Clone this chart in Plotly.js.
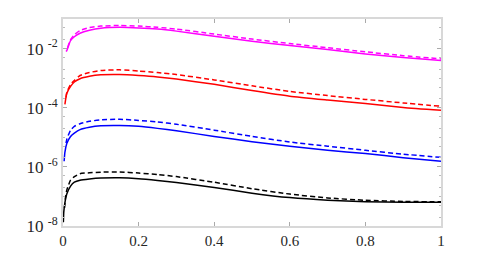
<!DOCTYPE html>
<html><head><meta charset="utf-8">
<script src="https://cdn.plot.ly/plotly-3.0.1.min.js"></script>
<style>html,body{margin:0;padding:0;background:#fff;}</style>
</head><body>
<div id="chart" style="width:488px;height:254px;"></div>
<script>
// magenta
const xMagentaSolid = [0.008,0.01,0.02,0.03,0.045,0.07,0.1,0.15,0.2,0.25,0.3,0.4,0.5,0.6,0.7,0.8,0.9,1.0];
const yMagentaSolid = [7.94e-3,8.51e-3,1.86e-2,2.51e-2,3.31e-2,4.17e-2,4.90e-2,5.25e-2,5.01e-2,4.57e-2,3.89e-2,2.63e-2,1.78e-2,1.26e-2,9.33e-3,6.61e-3,5.01e-3,3.98e-3];
const xMagentaDash = [0.012,0.02,0.03,0.045,0.07,0.1,0.15,0.2,0.25,0.3,0.4,0.5,0.6,0.7,0.8,0.9,1.0];
const yMagentaDash = [1.07e-2,2.0e-2,2.95e-2,4.07e-2,5.13e-2,5.75e-2,6.03e-2,5.75e-2,5.25e-2,4.57e-2,3.09e-2,2.09e-2,1.48e-2,1.07e-2,7.76e-3,5.75e-3,4.47e-3];
// red
const xRedSolid = [0.005,0.01,0.02,0.03,0.045,0.07,0.1,0.15,0.2,0.25,0.3,0.4,0.5,0.6,0.7,0.8,0.9,1.0];
const yRedSolid = [1.29e-4,3.02e-4,5.25e-4,7.41e-4,9.55e-4,1.15e-3,1.29e-3,1.32e-3,1.23e-3,1.10e-3,9.33e-4,6.17e-4,3.80e-4,2.45e-4,1.82e-4,1.38e-4,1.02e-4,8.13e-5];
const xRedDash = [0.008,0.01,0.02,0.03,0.045,0.07,0.1,0.15,0.2,0.25,0.3,0.4,0.5,0.6,0.7,0.8,0.9,1.0];
const yRedDash = [2.24e-4,3.31e-4,6.17e-4,8.32e-4,1.23e-3,1.55e-3,1.82e-3,1.91e-3,1.74e-3,1.55e-3,1.32e-3,8.71e-4,5.50e-4,3.55e-4,2.57e-4,1.91e-4,1.45e-4,1.12e-4];
// blue
const xBlueSolid = [0.003,0.005,0.01,0.02,0.03,0.045,0.07,0.1,0.15,0.2,0.25,0.3,0.4,0.5,0.6,0.7,0.8,0.9,1.0];
const yBlueSolid = [1.55e-6,3.09e-6,6.17e-6,1.07e-5,1.38e-5,1.82e-5,2.19e-5,2.45e-5,2.51e-5,2.34e-5,2.0e-5,1.66e-5,1.07e-5,7.08e-6,5.01e-6,3.63e-6,2.82e-6,2.04e-6,1.55e-6];
const xBlueDash = [0.008,0.01,0.02,0.03,0.045,0.07,0.1,0.15,0.2,0.25,0.3,0.4,0.5,0.6,0.7,0.8,0.9,1.0];
const yBlueDash = [6.31e-6,8.51e-6,1.74e-5,2.34e-5,2.88e-5,3.47e-5,3.89e-5,4.07e-5,3.72e-5,3.31e-5,2.75e-5,1.74e-5,1.07e-5,6.92e-6,5.01e-6,3.63e-6,2.69e-6,2.09e-6];
// black
const xBlackSolid = [0.001,0.002,0.005,0.01,0.02,0.03,0.045,0.07,0.1,0.15,0.2,0.25,0.3,0.4,0.5,0.6,0.7,0.8,0.9,1.0];
const yBlackSolid = [1.35e-8,2.95e-8,6.03e-8,1.20e-7,2.24e-7,3.02e-7,3.55e-7,3.89e-7,4.17e-7,4.27e-7,3.98e-7,3.47e-7,2.95e-7,2.0e-7,1.29e-7,9.12e-8,7.41e-8,6.61e-8,6.31e-8,6.31e-8];
const xBlackDash = [0.004,0.006,0.01,0.02,0.03,0.045,0.07,0.1,0.15,0.2,0.25,0.3,0.4,0.5,0.6,0.7,0.8,0.9,1.0];
const yBlackDash = [4.07e-8,8.13e-8,1.62e-7,3.55e-7,4.68e-7,5.89e-7,6.31e-7,6.61e-7,6.76e-7,6.17e-7,5.50e-7,4.68e-7,3.02e-7,1.82e-7,1.20e-7,8.91e-8,7.41e-8,6.76e-8,6.61e-8];

const xTickVals = [0,0.2,0.4,0.6,0.8,1];
const xTickText = ['0','0.2','0.4','0.6','0.8','1'];
const yTickVals = [1e-8,1e-6,1e-4,1e-2];
const yTickText = ['10 <sup>-8</sup>','10 <sup>-6</sup>','10 <sup>-4</sup>','10 <sup>-2</sup>'];

function tr(x, y, color, dashed) {
  return {x: x, y: y, type: 'scatter', mode: 'lines',
    line: {color: color, width: 1.5, shape: 'spline', smoothing: 0.5, dash: dashed ? '5px,3px' : 'solid'},
    hoverinfo: 'skip', showlegend: false};
}
const data = [
  tr(xMagentaDash, yMagentaDash, '#ff00ff', true),
  tr(xMagentaSolid, yMagentaSolid, '#ff00ff', false),
  tr(xRedDash, yRedDash, '#ff0000', true),
  tr(xRedSolid, yRedSolid, '#ff0000', false),
  tr(xBlueDash, yBlueDash, '#0000ff', true),
  tr(xBlueSolid, yBlueSolid, '#0000ff', false),
  tr(xBlackDash, yBlackDash, '#000000', true),
  tr(xBlackSolid, yBlackSolid, '#000000', false)
];
const layout = {
  width: 488, height: 254,
  margin: {l: 63, r: 47, t: 19, b: 28, pad: 0},
  paper_bgcolor: '#fff', plot_bgcolor: '#fff',
  font: {family: 'Liberation Serif', size: 15, color: '#262626'},
  xaxis: {range: [0, 1], tickmode: 'array', tickvals: xTickVals, ticktext: xTickText,
    showgrid: false, zeroline: false, showline: true, linecolor: '#d8d8d8', linewidth: 2,
    mirror: 'ticks', ticks: 'inside', ticklen: 4, tickcolor: '#aaa', tickwidth: 1,
    tickfont: {family: 'Liberation Serif', size: 15, color: '#262626'}},
  yaxis: {type: 'log', range: [-8, -1], tickmode: 'array', tickvals: yTickVals, ticktext: yTickText,
    showgrid: false, zeroline: false, showline: true, linecolor: '#d8d8d8', linewidth: 2,
    mirror: 'ticks', ticks: 'inside', ticklen: 4, tickcolor: '#aaa', tickwidth: 1,
    minor: {ticks: 'inside', ticklen: 2, tickcolor: '#bbb', tickwidth: 1, showgrid: false},
    tickfont: {family: 'Liberation Serif', size: 17, color: '#262626'}}
};
Plotly.newPlot('chart', data, layout, {displayModeBar: false});
</script>
</body></html>
